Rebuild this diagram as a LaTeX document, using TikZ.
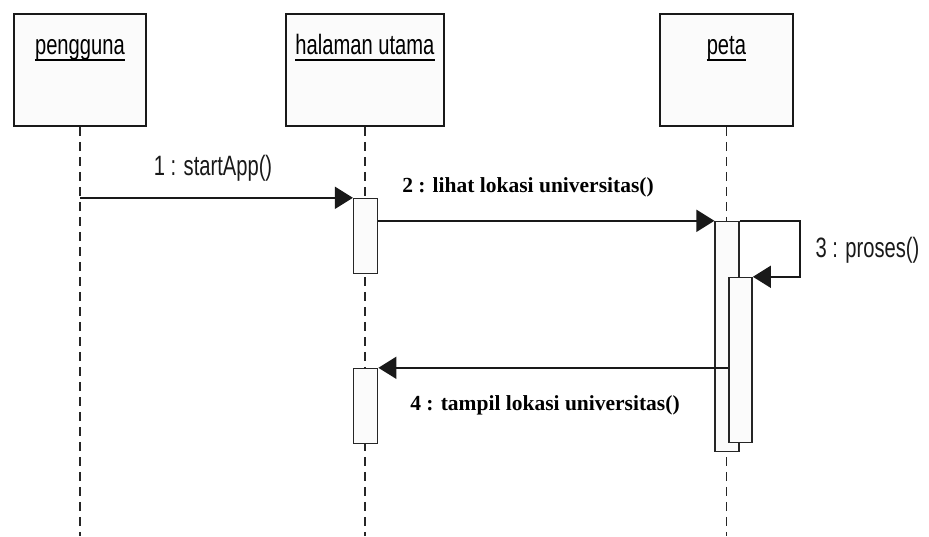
\documentclass[tikz,border=0pt]{standalone}
\usepackage{fontspec}
\setmainfont{Liberation Serif}
\newfontfamily\umlfont[FakeStretch=0.72]{Liberation Sans}
\usetikzlibrary{arrows.meta,calc}
\begin{document}
\begin{tikzpicture}[x=1pt,y=-1pt,
  obj/.style={draw=black!90, line width=1.8pt, fill=gray!3, inner sep=0, anchor=north west},
  act/.style={draw=black!85, line width=1.5pt, fill=gray!3, inner sep=0, minimum width=24pt, anchor=north west},
  life/.style={draw=black!85, line width=1.4pt, dash pattern=on 9pt off 6pt},
  msg/.style={draw=black!90, line width=1.8pt, -{Triangle[length=18pt,width=22pt]}},
  uml/.style={font=\umlfont\fontsize{28}{30}\selectfont, text=black!90},
  head/.style={uml, inner sep=0, anchor=base, text=black},
  uline/.style={draw=black, line width=1.6pt},
  bl/.style={font=\bfseries\fontsize{21.5}{24}\selectfont}]
\useasboundingbox (0,0) rectangle (929,536);
% objects
\node[obj, minimum width=132pt, minimum height=112pt] (pg) at (13,13) {};
\node[obj, minimum width=158pt, minimum height=112pt] (hu) at (285,13) {};
\node[obj, minimum width=133pt, minimum height=112pt] (pt) at (659,13) {};
\node[head] (pgT) at (pg.north |- 0,54) {pengguna};
\node[head] (huT) at (hu.north |- 0,54) {halaman utama};
\node[head] (ptT) at (pt.north |- 0,54) {peta};
\draw[uline] ([yshift=-6pt]pgT.base west) -- ([yshift=-6pt]pgT.base east);
\draw[uline] ([yshift=-6pt]huT.base west) -- ([yshift=-6pt]huT.base east);
\draw[uline] ([yshift=-6pt]ptT.base west) -- ([yshift=-6pt]ptT.base east);
% lifelines
\coordinate (pgE) at (pg.south |- 0,536);
\coordinate (huE) at (hu.south |- 0,536);
\coordinate (ptE) at (pt.south |- 0,536);
\draw[life] (pg.south) -- (pgE);
\draw[life] (hu.south) -- (huE);
\draw[life] (pt.south) -- (ptE);
% activations
\node[act, minimum height=75pt] (h1) at ($(hu.south)+(-12,71)$) {};
\node[act, minimum height=75pt] (h2) at ($(hu.south)+(-12,241)$) {};
\node[act, minimum height=230pt] (p1) at ($(pt.south)+(-12,94)$) {};
\node[act, minimum height=165pt, minimum width=23pt] (p2) at ($(pt.south)+(2,150)$) {};
% messages
\draw[msg] (pg.south |- h1.north) -- (h1.north west);
\draw[msg] (h1.east |- p1.north) -- (p1.north west);
\draw[msg] (p1.north east) -- ++(60,0) |- (p2.north east);
\draw[msg] (p2.west |- h2.north) -- (h2.north east);
% labels
\node[uml, anchor=base] (l1) at (213,175) {1 : startApp()};
\node[bl, anchor=base] (l2) at (528,192) {2 : lihat lokasi universitas()};
\node[uml, anchor=base west] (l3) at (812,257) {3 : proses()};
\node[bl, anchor=base] (l4) at (545,410) {4 : tampil lokasi universitas()};
\end{tikzpicture}
\end{document}
